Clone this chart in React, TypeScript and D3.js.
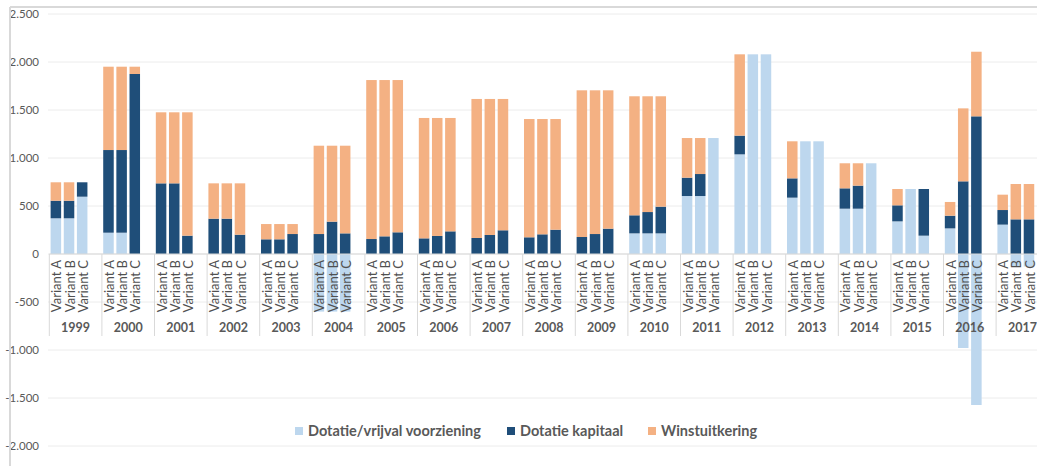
import React from "react";
import * as d3 from "d3";

const years = ["1999", "2000", "2001", "2002", "2003", "2004", "2005", "2006", "2007", "2008",
  "2009", "2010", "2011", "2012", "2013", "2014", "2015", "2016", "2017"];
const variants = ["Variant A", "Variant B", "Variant C"];
const yTicks = [-2000, -1500, -1000, -500, 0, 500, 1000, 1500, 2000, 2500];

// Dotatie/vrijval voorziening
const voorzieningA = [372, 222, 0, 0, 0, -600, 0, 0, 0, 0, 0, 215, 604, 1038, 587, 472, 340, 267, 306];
const voorzieningB = [372, 222, 0, 0, 0, -600, 0, 0, 0, 0, 0, 215, 604, 2080, 1174, 472, 677, -979, -130];
const voorzieningC = [597, 0, 0, 0, 0, -600, 0, 0, 0, 0, 0, 215, 1208, 2080, 1174, 945, 191, -1573, -130];
// Dotatie kapitaal
const kapitaalA = [183, 861, 736, 368, 153, 208, 156, 163, 167, 174, 177, 188, 191, 195, 201, 212, 167, 132, 152];
const kapitaalB = [183, 861, 736, 368, 153, 337, 184, 188, 198, 205, 208, 222, 229, 0, 0, 240, 0, 757, 361];
const kapitaalC = [150, 1875, 191, 201, 208, 215, 226, 236, 247, 253, 264, 278, 0, 0, 0, 0, 486, 1434, 361];
// Winstuitkering
const winstA = [192, 868, 740, 368, 159, 920, 1656, 1254, 1448, 1232, 1528, 1240, 413, 847, 386, 261, 170, 143, 160];
const winstB = [192, 868, 740, 368, 159, 791, 1628, 1229, 1417, 1201, 1497, 1206, 375, 0, 0, 233, 0, 760, 368];
const winstC = [0, 76, 1285, 535, 104, 913, 1586, 1181, 1368, 1153, 1441, 1150, 0, 0, 0, 0, 0, 673, 368];

const seriesKeys = ["voorziening", "kapitaal", "winst"];
const seriesNames = ["Dotatie/vrijval voorziening", "Dotatie kapitaal", "Winstuitkering"];
const colors = ["#BDD7EE", "#1F4E79", "#F4B183"];

const W = 1037;
const H = 466;
const font = "Lato, 'Open Sans', sans-serif";
const grey = "#595959";

const nl = d3.formatLocale({ decimal: ",", thousands: ".", grouping: [3], currency: ["€", ""], minus: "-" });
const fmt = nl.format(",");

export default function App() {
  const vz = [voorzieningA, voorzieningB, voorzieningC];
  const kp = [kapitaalA, kapitaalB, kapitaalC];
  const ws = [winstA, winstB, winstC];

  const rows: any[] = [];
  years.forEach((yr, i) => {
    variants.forEach((v, j) => {
      rows.push({ year: yr, variant: v, voorziening: vz[j][i], kapitaal: kp[j][i], winst: ws[j][i] });
    });
  });

  const stacked = d3.stack<any>().keys(seriesKeys).offset(d3.stackOffsetDiverging)(rows);

  const groupW = 52.6;
  const left = 49.3;
  const x0 = d3.scaleBand().domain(years).range([left, left + years.length * groupW]);
  const x1 = d3.scaleBand().domain([...variants, ""]).range([0, x0.bandwidth()]).paddingInner(0.2).paddingOuter(0.1);
  const y = d3.scaleLinear().domain([-2000, 2500]).range([446, 14]);

  const legendX = [295, 507, 648];

  return (
    <svg width={W} height={H} style={{ position: "absolute", left: 0, top: 0, background: "#fff" }}>
      {/* gridlines */}
      {yTicks.map((t) => (
        <line key={t} x1={48} x2={W} y1={y(t)} y2={y(t)} stroke="#ececec" strokeWidth={1} />
      ))}
      {/* bars */}
      {stacked.map((s, k) => (
        <g key={s.key} fill={colors[k]}>
          {s.map((d: any, i: number) => {
            const r = d.data;
            const h = Math.abs(y(d[0]) - y(d[1]));
            if (h === 0) return null;
            return (
              <rect key={i} x={(x0(r.year) as number) + (x1(r.variant) as number)} width={x1.bandwidth()}
                y={Math.min(y(d[0]), y(d[1]))} height={h} />
            );
          })}
        </g>
      ))}
      {/* category axis */}
      <line x1={left} x2={W} y1={y(0)} y2={y(0)} stroke="#d9d9d9" />
      {years.map((yr) => (
        <line key={"sep" + yr} x1={x0(yr)} x2={x0(yr)} y1={y(0)} y2={336} stroke="#d9d9d9" />
      ))}
      {rows.map((r, i) => {
        const cx = (x0(r.year) as number) + (x1(r.variant) as number) + x1.bandwidth() / 2 + 1;
        return (
          <text key={"vl" + i} transform={`translate(${cx},${y(0) + 6}) rotate(-90)`} textAnchor="end"
            dy="0.35em" fontFamily={font} fontSize={13} fill="#505050">
            {r.variant}
          </text>
        );
      })}
      {years.map((yr) => (
        <text key={"yl" + yr} x={(x0(yr) as number) + x0.bandwidth() / 2} y={332} textAnchor="middle"
          fontFamily={font} fontWeight="bold" fontSize={12.5} fill={grey}>
          {yr}
        </text>
      ))}
      {/* value axis labels */}
      {yTicks.map((t) => (
        <text key={"t" + t} x={39} y={y(t)} dy="0.35em" textAnchor="end" fontFamily={font} fontSize={11.5} fill={grey}>
          {fmt(t)}
        </text>
      ))}
      {/* legend */}
      {seriesNames.map((n, k) => (
        <g key={n} transform={`translate(${legendX[k]},431)`}>
          <rect x={0} y={-4} width={8} height={8} fill={colors[k]} />
          <text x={13} y={0} dy="0.35em" fontFamily={font} fontWeight="bold" fontSize={14.5} fill={grey}>
            {n}
          </text>
        </g>
      ))}
      {/* chart frame */}
      <line x1={10} x2={W} y1={7} y2={7} stroke="#d9d9d9" strokeWidth={2} />
      <line x1={10} x2={10} y1={7} y2={H} stroke="#d9d9d9" strokeWidth={2} />
    </svg>
  );
}
